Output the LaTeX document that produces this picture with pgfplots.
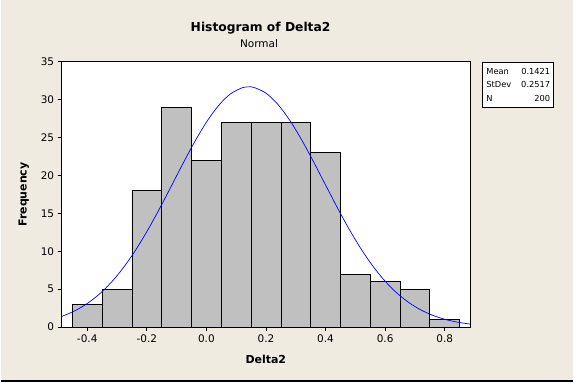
\documentclass[border=0pt]{standalone}
\usepackage{fontspec}
\setmainfont{DejaVu Sans}
\usepackage{pgfplots}
\pgfplotsset{compat=1.18}
\definecolor{bgc}{HTML}{EFEBE1}
\definecolor{barc}{HTML}{C0C0C0}
\begin{document}
\begin{tikzpicture}[x=1pt,y=1pt]
\fill[bgc] (0,0) rectangle (574,383);
\draw[line width=1.5pt] (0,1.2) -- (574,1.2);
\begin{axis}[at={(61pt,55pt)}, anchor=south west, scale only axis,
  width=409.5pt, height=266pt,
  xmin=-0.486, xmax=0.885, ymin=0, ymax=35,
  axis background/.style={fill=white},
  axis line style={black, line width=0.8pt},
  tick align=outside, xtick pos=left, ytick pos=left,
  major tick length=4pt, tick style={black, line width=0.8pt},
  xtick={-0.4,-0.2,0,0.2,0.4,0.6,0.8},
  xticklabels={-0.4,-0.2,0.0,0.2,0.4,0.6,0.8},
  ytick={0,5,10,15,20,25,30,35},
  yticklabels={0,5,10,15,20,25,30,35},
  tick label style={font=\fontsize{10.5}{12}\selectfont},
  xlabel={Delta2}, ylabel={Frequency},
  label style={font=\fontsize{11}{13}\selectfont\bfseries},
  xlabel style={at={(axis description cs:0.5,0)}, anchor=center, yshift=-32pt},
  ylabel style={at={(axis description cs:0,0.5)}, anchor=center, yshift=38pt},
  clip=true]
\addplot[ybar interval, fill=barc, draw=black, line width=0.7pt] coordinates {
(-0.45,3) (-0.35,5) (-0.25,18) (-0.15,29) (-0.05,22) (0.05,27) (0.15,27)
(0.25,27) (0.35,23) (0.45,7) (0.55,6) (0.65,5) (0.75,1) (0.85,1)};
\addplot[blue, line width=0.7pt, smooth] coordinates {
(-0.50,1.19) (-0.48,1.495) (-0.44,2.185) (-0.40,3.117) (-0.36,4.336) (-0.32,5.878)
(-0.28,7.770) (-0.24,10.014) (-0.20,12.586) (-0.16,15.425) (-0.12,18.433)
(-0.08,21.478) (-0.04,24.401) (0.00,27.029) (0.04,29.196) (0.08,30.750)
(0.12,31.578) (0.1421,31.700) (0.16,31.620) (0.20,30.872) (0.24,29.390)
(0.28,27.282) (0.32,24.693) (0.36,21.793) (0.40,18.755) (0.44,15.736)
(0.48,12.873) (0.52,10.270) (0.56,7.989) (0.60,6.060) (0.64,4.481)
(0.68,3.231) (0.72,2.272) (0.76,1.557) (0.80,1.041) (0.84,0.679) (0.88,0.431) (0.90,0.34)};
\end{axis}
\node[font=\fontsize{12.3}{14}\selectfont\bfseries] at (260.5,355) {Histogram of Delta2};
\node[font=\fontsize{10.5}{12}\selectfont] at (259,339) {Normal};
\node[draw=black, line width=0.8pt, fill=white, anchor=north west, inner sep=2.5pt,
  minimum width=71pt, minimum height=45pt, text width=64pt, align=left,
  font=\fontsize{8.3}{13.5}\selectfont] at (483,321)
  {Mean\hfill 0.1421\\StDev\hfill 0.2517\\N\hfill 200};
\end{tikzpicture}
\end{document}
